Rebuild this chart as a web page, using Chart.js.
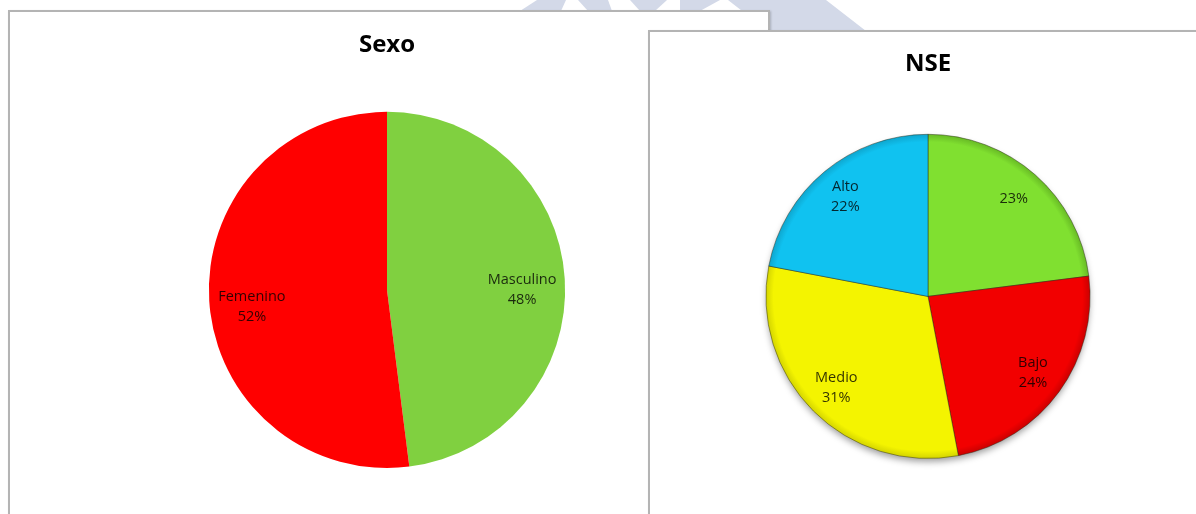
<!DOCTYPE html>
<html>
<head>
<meta charset="utf-8">
<script src="https://cdn.jsdelivr.net/npm/chart.js@4"></script>
<style>
  body { margin: 0; width: 1196px; height: 514px; background: #fff; position: relative; overflow: hidden; }
  .mark { position: absolute; left: 0; top: 0; }
  .panel { position: absolute; background: #fff; border: 2px solid #b4b4b4; box-shadow: 1px 1px 2px rgba(0,0,0,0.2); }
  #panelSexo { left: 8px; top: 10px; width: 758px; height: 560px; }
  #panelNse { left: 648px; top: 30px; width: 600px; height: 560px; }
  canvas { position: absolute; }
  #sexoChart { left: 10px; top: 11px; }
  #nseChart { left: 650px; top: 31px; }
</style>
</head>
<body>
<svg class="mark" width="1196" height="60">
  <g fill="#d3d9e8">
    <polygon points="520,11 561,11 566,0 537,0"/>
    <polygon points="578,0 608,0 612,11 588,11"/>
    <polygon points="630,0 667,0 655,11 640,11"/>
    <polygon points="680,0 720,0 700,11 680,11"/>
    <polygon points="728,0 826,0 866,31 768,31"/>
  </g>
</svg>
<div class="panel" id="panelSexo"></div>
<canvas id="sexoChart" width="758" height="503"></canvas>
<div class="panel" id="panelNse"></div>
<canvas id="nseChart" width="546" height="483"></canvas>
<script>
// data
var sexoLabels = ['Masculino', 'Femenino'];
var sexoValues = [48, 52];
var nseLabels = ['', 'Bajo', 'Medio', 'Alto'];
var nseValues = [23, 24, 31, 22];

var sexoColors = ['#80d040', '#ff0000'];
var nseColors = ['#80e030', '#f20000', '#f4f400', '#10c2f0'];
var nseRims = ['#66b824', '#c80000', '#d2d200', '#0ea4cc'];

// name + percent written inside each slice
var sliceLabels = {
    id: 'sliceLabels',
    afterDatasetsDraw: function(chart, args, opts) {
        var ctx = chart.ctx;
        var data = chart.data.datasets[0].data;
        var total = data.reduce(function(a, b) { return a + b; }, 0);
        var meta = chart.getDatasetMeta(0);
        ctx.save();
        ctx.font = '14.5px "Open Sans"';
        ctx.fillStyle = 'rgba(0,0,0,0.8)';
        ctx.textAlign = 'center';
        ctx.textBaseline = 'middle';
        meta.data.forEach(function(arc, i) {
            var mid = (arc.startAngle + arc.endAngle) / 2;
            var r = arc.outerRadius * opts.radius;
            var x = arc.x + Math.cos(mid) * r;
            var y = arc.y + Math.sin(mid) * r + (opts.shiftY || 0);
            var lines = [];
            if (chart.data.labels[i]) lines.push(chart.data.labels[i]);
            lines.push(Math.round(data[i] / total * 100) + '%');
            var y0 = y - (lines.length - 1) * 10;
            lines.forEach(function(t, k) { ctx.fillText(t, x, y0 + k * 20); });
        });
        ctx.restore();
    }
};

// soft shadow under the whole pie
var pieShadow = {
    id: 'pieShadow',
    beforeDatasetsDraw: function(chart) {
        var arc = chart.getDatasetMeta(0).data[0];
        if (!arc) return;
        var ctx = chart.ctx;
        ctx.save();
        ctx.shadowColor = 'rgba(0,0,0,0.4)';
        ctx.shadowBlur = 7;
        ctx.shadowOffsetY = 4;
        ctx.fillStyle = '#888';
        ctx.beginPath();
        ctx.arc(arc.x, arc.y, arc.outerRadius - 1, 0, Math.PI * 2);
        ctx.fill();
        ctx.restore();
    }
};

function bevelFill(c) {
    var base = nseColors[c.dataIndex];
    var area = c.chart.chartArea;
    if (!area) return base;
    var cx = (area.left + area.right) / 2;
    var cy = (area.top + area.bottom) / 2;
    var r = Math.min(area.right - area.left, area.bottom - area.top) / 2;
    var g = c.chart.ctx.createRadialGradient(cx, cy, 0, cx, cy, r);
    g.addColorStop(0, base);
    g.addColorStop(0.95, base);
    g.addColorStop(1, nseRims[c.dataIndex]);
    return g;
}

var ctx1 = document.getElementById('sexoChart').getContext('2d');
var sexoChart = new Chart(ctx1, {
    type: 'pie',
    data: {
        labels: sexoLabels,
        datasets: [{
            data: sexoValues,
            backgroundColor: sexoColors,
            borderWidth: 0
        }]
    },
    options: {
        responsive: false,
        animation: false,
        layout: { padding: { right: 4, bottom: 46 } },
        plugins: {
            legend: { display: false },
            tooltip: { enabled: false },
            title: {
                display: true,
                text: 'Sexo',
                color: '#000',
                font: { family: '"Open Sans"', size: 24, weight: 'bold' },
                padding: { top: 20, bottom: 52 }
            },
            sliceLabels: { radius: 0.76, shiftY: 8 }
        }
    },
    plugins: [sliceLabels]
});

var ctx2 = document.getElementById('nseChart').getContext('2d');
var nseChart = new Chart(ctx2, {
    type: 'pie',
    data: {
        labels: nseLabels,
        datasets: [{
            data: nseValues,
            backgroundColor: bevelFill,
            borderColor: 'rgba(40,40,20,0.45)',
            borderWidth: 1
        }]
    },
    options: {
        responsive: false,
        animation: false,
        layout: { padding: { left: 10, bottom: 55 } },
        plugins: {
            legend: { display: false },
            tooltip: { enabled: false },
            title: {
                display: true,
                text: 'NSE',
                color: '#000',
                font: { family: '"Open Sans"', size: 24, weight: 'bold' },
                padding: { top: 19, bottom: 55 }
            },
            sliceLabels: { radius: 0.8 }
        }
    },
    plugins: [pieShadow, sliceLabels]
});
</script>
</body>
</html>
